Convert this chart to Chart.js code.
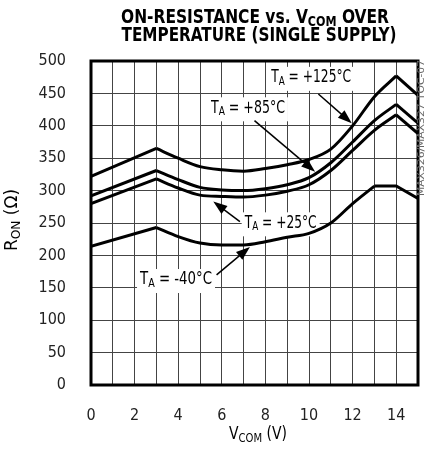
<!DOCTYPE html>
<html>
<head>
<meta charset="utf-8">
<script src="https://cdn.jsdelivr.net/npm/chart.js@4.4.1/dist/chart.umd.min.js"></script>
<style>
  html, body { margin: 0; background: #fff; }
  #wrap { width: 427px; height: 451px; }
</style>
</head>
<body>
<div id="wrap"><canvas id="chart"></canvas></div>
<script>
// V_COM (V) sample points and R_ON (ohm)
const vcom = [0, 3, 4, 5, 6, 7, 8, 9, 10, 11, 12, 13, 14, 15];
const ron125 = [322, 365, 350, 337, 332, 330, 334, 340, 348, 364, 400, 445, 477, 447];
const ron85 = [292, 331, 317, 305, 301, 300, 303, 309, 320, 343, 375, 408, 433, 404];
const ron25 = [280, 318, 304, 293, 291, 290, 293, 299, 309, 331, 362, 393, 417, 388];
const ronM40 = [214, 243, 229, 219, 216, 216, 221, 228, 234, 250, 280, 307, 307, 288];
const tempLabels = ["+125°C", "+85°C", "+25°C", "-40°C"];

const FONT = '"Liberation Sans Narrow", "DejaVu Sans Condensed", Arial, sans-serif';

function line(ys, from, to, smooth) {
  const pts = [];
  for (let i = from; i <= to; i++) pts.push({ x: vcom[i], y: ys[i] });
  return {
    data: pts,
    borderColor: "#000",
    borderWidth: 3,
    pointRadius: 0,
    tension: smooth ? 0.4 : 0,
    cubicInterpolationMode: smooth ? "monotone" : "default",
    fill: false,
  };
}

// straight rise to the 3V knee, smooth bowl, straight ends after the peak
function curve(ys, peak) {
  return [line(ys, 0, 1, false), line(ys, 1, peak, true), line(ys, peak, vcom.length - 1, false)];
}

// draw text pieces [text, isSub] centred at cx, cy, optionally squeezed to fitW
function richText(ctx, parts, cx, cy, size, bold, fitW) {
  const w = bold ? "bold " : "";
  let total = 0;
  parts.forEach((p) => {
    ctx.font = w + (p[1] ? size * 0.72 : size) + "px " + FONT;
    total += ctx.measureText(p[0]).width;
  });
  const sx = fitW ? fitW / total : 1;
  ctx.save();
  ctx.translate(cx, cy);
  ctx.scale(sx, 1);
  let x = -total / 2;
  ctx.textBaseline = "middle";
  ctx.textAlign = "left";
  parts.forEach((p) => {
    ctx.font = w + (p[1] ? size * 0.72 : size) + "px " + FONT;
    ctx.fillText(p[0], x, p[1] ? size * 0.22 : 0);
    x += ctx.measureText(p[0]).width;
  });
  ctx.restore();
  return total * sx;
}

// label centre, arrow start and arrow tip, in data units
const callouts = [
  { at: [10.1, 474], w: 80, from: [10.43, 449], to: [11.96, 404] },
  { at: [7.2, 427], w: 74, from: [7.5, 408], to: [10.28, 329] },
  { at: [8.7, 249.5], w: 72, from: [6.83, 252], to: [5.61, 283] },
  { at: [3.9, 162], w: 72, from: [5.76, 170], to: [7.29, 213] },
];

const decorPlugin = {
  id: "decor",
  beforeDatasetsDraw(chart) {
    // white boxes behind labels hide the grid, not the curves
    const ctx = chart.ctx;
    const xs = chart.scales.x;
    const ys = chart.scales.y;
    ctx.save();
    ctx.fillStyle = "#fff";
    callouts.forEach((c) => {
      const cx = xs.getPixelForValue(c.at[0]);
      const cy = ys.getPixelForValue(c.at[1]);
      ctx.fillRect(cx - c.w / 2 - 3, cy - 11, c.w + 6, 24);
    });
    ctx.restore();
  },
  afterDatasetsDraw(chart) {
    const ctx = chart.ctx;
    const a = chart.chartArea;
    const xs = chart.scales.x;
    const ys = chart.scales.y;
    ctx.save();
    ctx.fillStyle = "#000";
    ctx.strokeStyle = "#000";

    // arrows
    callouts.forEach((c) => {
      const x1 = xs.getPixelForValue(c.from[0]);
      const y1 = ys.getPixelForValue(c.from[1]);
      const x2 = xs.getPixelForValue(c.to[0]);
      const y2 = ys.getPixelForValue(c.to[1]);
      const ang = Math.atan2(y2 - y1, x2 - x1);
      const ca = Math.cos(ang), sa = Math.sin(ang);
      ctx.lineWidth = 1.5;
      ctx.beginPath();
      ctx.moveTo(x1, y1);
      ctx.lineTo(x2 - 10 * ca, y2 - 10 * sa);
      ctx.stroke();
      ctx.beginPath();
      ctx.moveTo(x2, y2);
      ctx.lineTo(x2 - 14 * ca + 5 * sa, y2 - 14 * sa - 5 * ca);
      ctx.lineTo(x2 - 14 * ca - 5 * sa, y2 - 14 * sa + 5 * ca);
      ctx.closePath();
      ctx.fill();
    });

    // label text
    callouts.forEach((c, i) => {
      const cx = xs.getPixelForValue(c.at[0]);
      const cy = ys.getPixelForValue(c.at[1]);
      const parts = [["T", false], ["A", true], [" = " + tempLabels[i], false]];
      richText(ctx, parts, cx, cy, 17, false, c.w);
    });

    // plot frame
    ctx.lineWidth = 3;
    ctx.strokeRect(a.left, a.top, a.right - a.left, a.bottom - a.top);

    // title
    richText(ctx, [["ON-RESISTANCE vs. V", false], ["COM", true], [" OVER", false]], 255, 18, 20, true, 268);
    richText(ctx, [["TEMPERATURE (SINGLE SUPPLY)", false]], 259, 36, 20, true, 275);

    // axis titles
    richText(ctx, [["V", false], ["COM", true], [" (V)", false]], 258, 435, 17, false, 58);
    ctx.save();
    ctx.translate(13, 220);
    ctx.rotate(-Math.PI / 2);
    richText(ctx, [["R", false], ["ON", true], [" (Ω)", false]], 0, 0, 17, false, 62);
    ctx.restore();

    // side note
    ctx.save();
    ctx.translate(422, 128);
    ctx.rotate(-Math.PI / 2);
    ctx.fillStyle = "#666";
    richText(ctx, [["MAX326/MAX327 TOC-07", false]], 0, 0, 9, false, 136);
    ctx.restore();
    ctx.restore();
  },
};

new Chart(document.getElementById("chart"), {
  type: "line",
  data: {
    datasets: [
      ...curve(ron125, 12),
      ...curve(ron85, 12),
      ...curve(ron25, 12),
      ...curve(ronM40, 11),
    ],
  },
  options: {
    responsive: true,
    maintainAspectRatio: false,
    animation: false,
    layout: { padding: { top: 61, right: 9, left: 0, bottom: 0 } },
    plugins: { legend: { display: false }, title: { display: false }, tooltip: { enabled: false } },
    scales: {
      x: {
        type: "linear",
        min: 0,
        max: 15,
        afterFit: (s) => { s.height = 66; s.paddingLeft = 0; s.paddingRight = 0; },
        grid: { color: "#444", lineWidth: 1, drawTicks: false },
        border: { display: false },
        ticks: {
          stepSize: 1,
          autoSkip: false,
          padding: 21,
          color: "#222",
          font: { family: FONT, size: 16 },
          maxRotation: 0,
          callback: (v) => (v % 2 === 0 ? v : ""),
        },
      },
      y: {
        min: 0,
        max: 500,
        afterFit: (s) => { s.width = 91; s.paddingTop = 0; s.paddingBottom = 0; },
        grid: { color: "#444", lineWidth: 1, drawTicks: false },
        border: { display: false },
        ticks: {
          stepSize: 50,
          autoSkip: false,
          padding: 25,
          color: "#222",
          font: { family: FONT, size: 16 },
        },
      },
    },
  },
  plugins: [decorPlugin],
});
</script>
</body>
</html>
